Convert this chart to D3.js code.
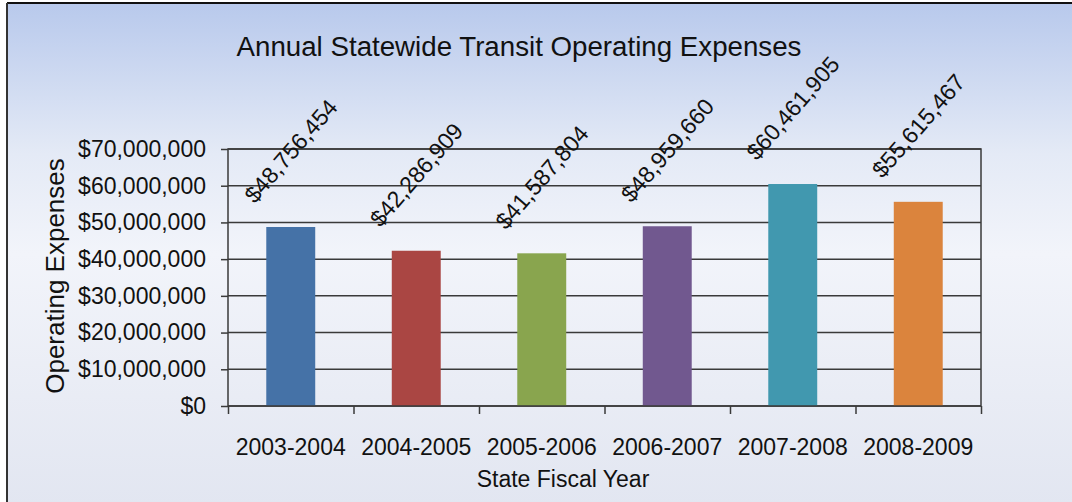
<!DOCTYPE html>
<meta charset="utf-8">
<style>
  body { margin: 0; background: #fff; }
  text { font-family: "Liberation Sans", Arial, sans-serif; fill: #111; }
  .grid line { stroke: #3a3a3a; stroke-width: 1.5px; }
  .axis path { display: none; }
  .axis line { stroke: #3a3a3a; stroke-width: 1.5px; }
</style>
<body>
<script src="https://d3js.org/d3.v7.min.js"></script>
<script>

// data
var years = ["2003-2004", "2004-2005", "2005-2006", "2006-2007", "2007-2008", "2008-2009"];
var expenses = [48756454, 42286909, 41587804, 48959660, 60461905, 55615467];
var barColors = ["#4572a7", "#aa4643", "#89a54e", "#71588f", "#4198af", "#db843d"];
var yTicks = [0, 10000000, 20000000, 30000000, 40000000, 50000000, 60000000, 70000000];

var W = 1072, H = 502;
var plot = {left: 228, right: 981, top: 149, bottom: 406};

var svg = d3.select("body").append("svg")
    .attr("width", W)
    .attr("height", H);

// background gradient
var grad = svg.append("defs").append("linearGradient")
    .attr("id", "bg").attr("x1", 0).attr("y1", 0).attr("x2", 0).attr("y2", 1);
grad.append("stop").attr("offset", "0%").attr("stop-color", "#b8c9ec");
grad.append("stop").attr("offset", "30%").attr("stop-color", "#e4eaf6");
grad.append("stop").attr("offset", "50%").attr("stop-color", "#f2f4fa");
grad.append("stop").attr("offset", "100%").attr("stop-color", "#e2e6f1");

svg.append("rect")
    .attr("x", 7).attr("y", 3)
    .attr("width", W).attr("height", H)
    .attr("fill", "url(#bg)");
svg.append("line").attr("x1", 7).attr("x2", W).attr("y1", 3).attr("y2", 3)
    .attr("stroke", "#111").attr("stroke-width", 2);
svg.append("line").attr("x1", 7).attr("x2", 7).attr("y1", 3).attr("y2", H)
    .attr("stroke", "#333").attr("stroke-width", 2);

// scales
var x = d3.scaleBand()
    .domain(years)
    .range([plot.left, plot.right])
    .paddingInner(0.61)
    .paddingOuter(0.305);

var xEdge = d3.scaleLinear().domain([0, years.length]).range([plot.left, plot.right]);

var y = d3.scaleLinear()
    .domain([0, 70000000])
    .range([plot.bottom, plot.top]);

var money = d3.format("$,");

// gridlines
svg.append("g")
    .attr("class", "grid")
    .selectAll("line")
    .data(yTicks)
  .enter().append("line")
    .attr("x1", plot.left).attr("x2", plot.right)
    .attr("y1", function(d) { return y(d); })
    .attr("y2", function(d) { return y(d); });

// bars
svg.append("g")
  .selectAll("rect")
    .data(expenses)
  .enter().append("rect")
    .attr("x", function(d, i) { return x(years[i]); })
    .attr("y", function(d) { return y(d); })
    .attr("width", x.bandwidth())
    .attr("height", function(d) { return y(0) - y(d); })
    .attr("fill", function(d, i) { return barColors[i]; });

// plot border
svg.append("rect")
    .attr("x", plot.left).attr("y", plot.top)
    .attr("width", plot.right - plot.left)
    .attr("height", plot.bottom - plot.top)
    .attr("fill", "none")
    .attr("stroke", "#3a3a3a")
    .attr("stroke-width", 1.5);

// y axis
svg.append("g")
    .attr("class", "axis")
    .attr("transform", "translate(" + plot.left + ",0)")
    .call(d3.axisLeft(y).tickValues(yTicks).tickSize(7).tickPadding(15).tickFormat(money))
    .selectAll("text")
    .style("font-size", "23px");

// x axis ticks at category edges
svg.append("g")
    .attr("class", "axis")
    .attr("transform", "translate(0," + plot.bottom + ")")
    .call(d3.axisBottom(xEdge).tickValues(d3.range(years.length + 1)).tickSize(8).tickFormat(""));

// x axis labels
svg.append("g")
    .attr("class", "axis")
    .attr("transform", "translate(0," + plot.bottom + ")")
    .call(d3.axisBottom(x).tickSize(0).tickPadding(33))
    .selectAll("text")
    .style("font-size", "23px");

// data labels, rotated
svg.append("g")
  .selectAll("text")
    .data(expenses)
  .enter().append("text")
    .attr("transform", function(d, i) {
      return "translate(" + (x(years[i]) + x.bandwidth() / 2) + "," + (y(d) - 76) + ") rotate(-49)";
    })
    .attr("text-anchor", "middle")
    .attr("dy", "0.35em")
    .style("font-size", "23px")
    .text(function(d) { return money(d); });

// titles
svg.append("text")
    .attr("x", 519).attr("y", 56)
    .attr("text-anchor", "middle")
    .style("font-size", "27.7px")
    .text("Annual Statewide Transit Operating Expenses");

svg.append("text")
    .attr("x", 563).attr("y", 487)
    .attr("text-anchor", "middle")
    .style("font-size", "23px")
    .text("State Fiscal Year");

svg.append("text")
    .attr("transform", "translate(64,276) rotate(-90)")
    .attr("text-anchor", "middle")
    .style("font-size", "26px")
    .text("Operating Expenses");

</script>
</body>
